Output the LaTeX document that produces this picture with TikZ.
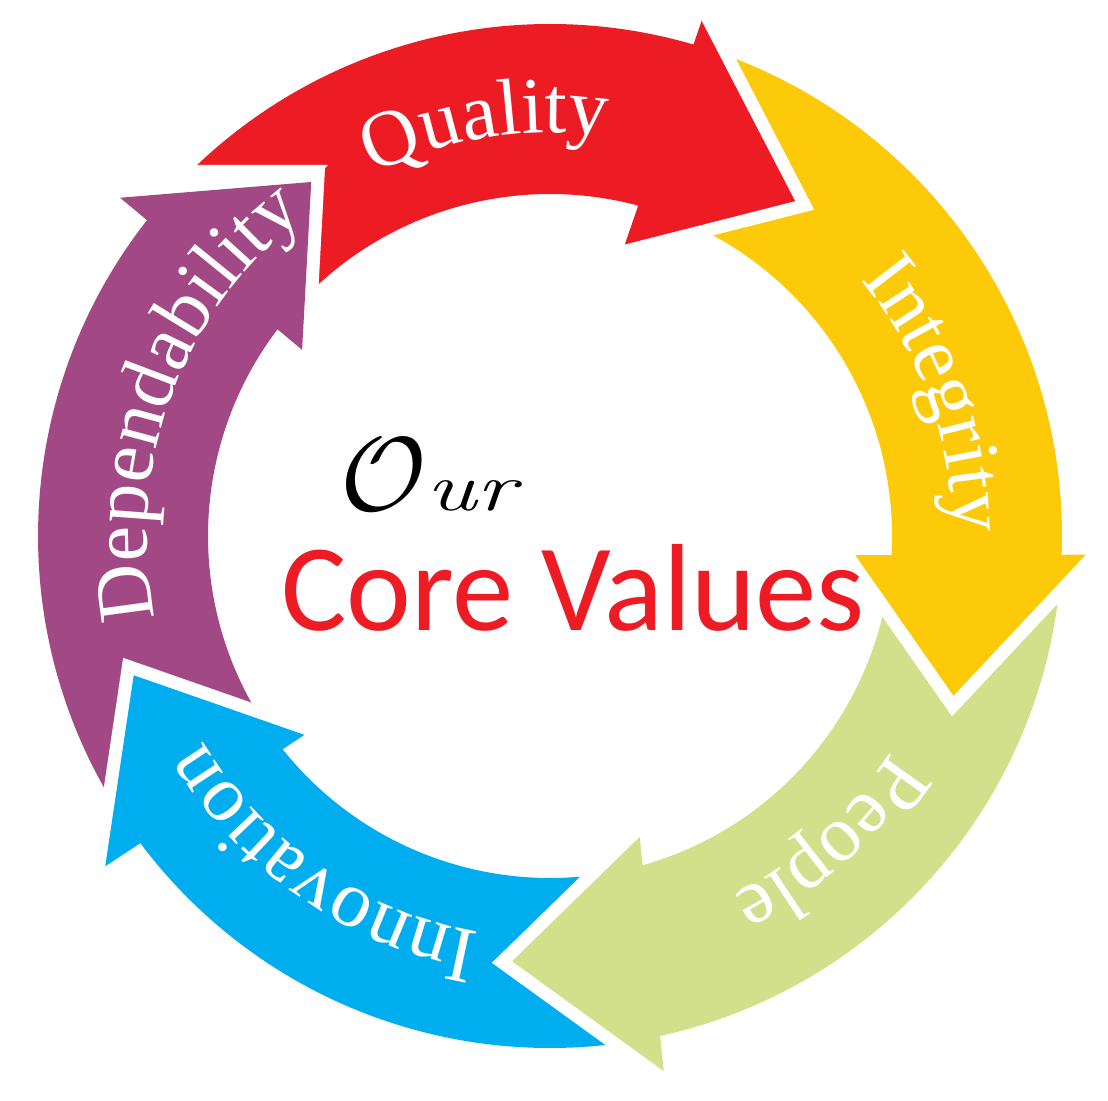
\documentclass[tikz,border=0pt]{standalone}
\usepackage{fontspec}
\usepackage{graphicx}
\usetikzlibrary{decorations.text}
\newfontfamily\lblfont{Liberation Serif}
\newfontfamily\corefont{Carlito}
\definecolor{cvred}{HTML}{ED1C24}
\definecolor{cvyellow}{HTML}{FDCA0A}
\definecolor{cvgreen}{HTML}{D3E08B}
\definecolor{cvblue}{HTML}{00AEEF}
\definecolor{cvpurple}{HTML}{A24884}
\newcommand{\lblsize}{\fontsize{80}{80}\selectfont}
% body: colour, outer start, outer end, inner start, inner end
\newcommand{\cvbody}[5]{\fill[#1] (#2:512pt) arc[start angle=#2,end angle=#3,radius=512pt] -- (#4:342pt) arc[start angle=#4,end angle=#5,radius=342pt] -- cycle;}
% head: colour, outer barb, tip, inner barb
\newcommand{\cvhead}[4]{\draw[gapline] (#2) -- (#3) -- (#4); \fill[#1] (#2) -- (#3) -- (#4) -- cycle;}
\newcommand{\cvlabel}[2]{\path[decorate,decoration={text along path,text align=center,text color=white,text={|\lblfont\lblsize|#2}}] (#1+50:403pt) arc[start angle=#1+50,end angle=#1-50,radius=403pt];}
\tikzset{gapline/.style={white,line width=26pt,line join=miter}}
\begin{document}
\begin{tikzpicture}[x=1pt,y=1pt]
\fill[white] (-550,-564) rectangle (558,536);
\useasboundingbox (-550,-564) rectangle (558,536);

% arrowhead points
\coordinate (rBo) at (73.6:537pt);  \coordinate (rT) at (53.8:415pt);  \coordinate (rBi) at (75.6:301pt);
\coordinate (yBo) at (-2.0:536pt);  \coordinate (yT) at (-21.6:434pt); \coordinate (yBi) at (-3.6:306pt);
\coordinate (gBo) at (-78.0:547pt); \coordinate (gT) at (-95.1:427pt); \coordinate (gBi) at (-73.4:314pt);
\coordinate (bBo) at (216.6:554pt); \coordinate (bT) at (198.5:439pt); \coordinate (bBi) at (219.0:316pt);
\coordinate (pBo) at (141.8:547pt); \coordinate (pT) at (124.0:427pt); \coordinate (pBi) at (143.1:310pt);

% bodies
\cvbody{cvred}{141.49}{72.81}{74.25}{142.42}
\cvbody{cvyellow}{73.31}{-3.17}{-4.35}{74.75}
\cvbody{cvgreen}{-2.67}{-78.31}{-74.95}{-3.85}
\cvbody{cvblue}{-77.81}{-143.98}{-142.26}{-74.45}
\cvbody{cvpurple}{216.52}{140.99}{141.92}{218.24}
% straight top edge of the red tail notch
\fill[white] (-390,371) -- (-222,371) -- (pT) -- (pBo) -- cycle;

% heads
\cvhead{cvred}{rBo}{rT}{rBi}
\cvhead{cvyellow}{yBo}{yT}{yBi}
\cvhead{cvgreen}{gBo}{gT}{gBi}
\cvhead{cvblue}{bBo}{bT}{bBi}
\cvhead{cvpurple}{pBo}{pT}{pBi}

% labels
\cvlabel{99}{Quality}
\cvlabel{20}{Integrity}
\cvlabel{-47.7}{People}
\cvlabel{-124.75}{Innovation}
\cvlabel{159.6}{Dependability}

% centre text
\node[anchor=base west,inner sep=0pt] (our) at (-210,26) {\scalebox{10.5}{$\mathcal{O}$}\scalebox{1.4}[1]{\fontsize{68}{68}\selectfont\itshape ur}};
\node[anchor=base,inner sep=0pt,text=cvred] (core) at (23,-94) {\corefont\fontsize{124}{124}\selectfont\scalebox{0.99}[1]{Core Values}};
\end{tikzpicture}
\end{document}
